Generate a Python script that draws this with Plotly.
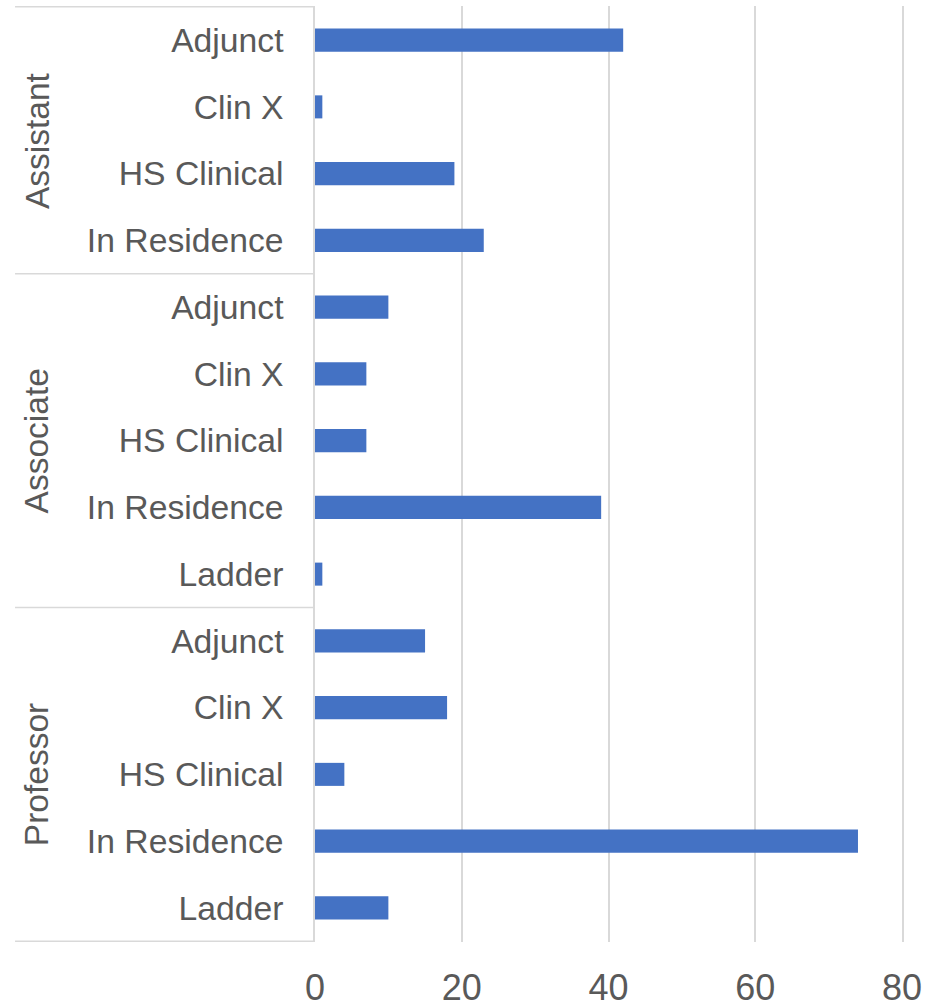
import plotly.graph_objects as go

groups = ["Assistant", "Assistant", "Assistant", "Assistant",
          "Associate", "Associate", "Associate", "Associate", "Associate",
          "Professor", "Professor", "Professor", "Professor", "Professor"]
subcats = ["Adjunct", "Clin X", "HS Clinical", "In Residence",
           "Adjunct", "Clin X", "HS Clinical", "In Residence", "Ladder",
           "Adjunct", "Clin X", "HS Clinical", "In Residence", "Ladder"]
values = [42, 1, 19, 23,
          10, 7, 7, 39, 1,
          15, 18, 4, 74, 10]
x_ticks = [0, 20, 40, 60, 80]

keys = [f"{g}|{s}" for g, s in zip(groups, subcats)]

FONT = "Liberation Sans, Arial, sans-serif"
GRAY = "#595959"
LINE = "#d9d9d9"

fig = go.Figure()
fig.add_trace(go.Bar(
    x=values, y=keys, orientation="h",
    marker=dict(color="#4472C4", line=dict(width=0)),
    showlegend=False,
))

# group spans
group_names = []
for g in groups:
    if g not in group_names:
        group_names.append(g)
shapes = []
annotations = []
start = 0
bounds = [-0.5]
for gname in group_names:
    n = groups.count(gname)
    mid = start + (n - 1) / 2
    annotations.append(dict(
        x=-0.474, xref="paper", y=mid, yref="y",
        text=gname, textangle=-90, showarrow=False,
        font=dict(family=FONT, size=33.5, color=GRAY),
        xanchor="center", yanchor="middle",
    ))
    start += n
    bounds.append(start - 0.5)
for b in bounds:
    shapes.append(dict(
        type="line", xref="paper", yref="y",
        x0=-0.511, x1=0, y0=b, y1=b,
        line=dict(color=LINE, width=1.5),
    ))

fig.update_layout(
    width=945, height=1008,
    margin=dict(l=315, r=43, t=6, b=66, autoexpand=False),
    plot_bgcolor="white", paper_bgcolor="white",
    bargap=0.655,
    shapes=shapes,
    annotations=annotations,
    font=dict(family=FONT, color=GRAY),
)
fig.update_xaxes(
    range=[0, 80], tickvals=x_ticks,
    showgrid=True, gridcolor=LINE, gridwidth=1.5,
    zeroline=False, showline=False, automargin=False,
    tickfont=dict(family=FONT, size=36, color=GRAY),
    ticks="", ticklabelstandoff=21,
)
fig.update_yaxes(
    type="category", categoryorder="array", categoryarray=keys,
    autorange="reversed", automargin=False,
    tickvals=keys, ticktext=subcats,
    showgrid=False, zeroline=False,
    showline=True, mirror=True, linecolor=LINE, linewidth=1.5,
    tickfont=dict(family=FONT, size=33.7, color=GRAY),
    ticks="", ticklabelstandoff=23,
)

fig.write_html("out.html", config={"displayModeBar": False},
               post_script="document.body.style.margin='0';")
